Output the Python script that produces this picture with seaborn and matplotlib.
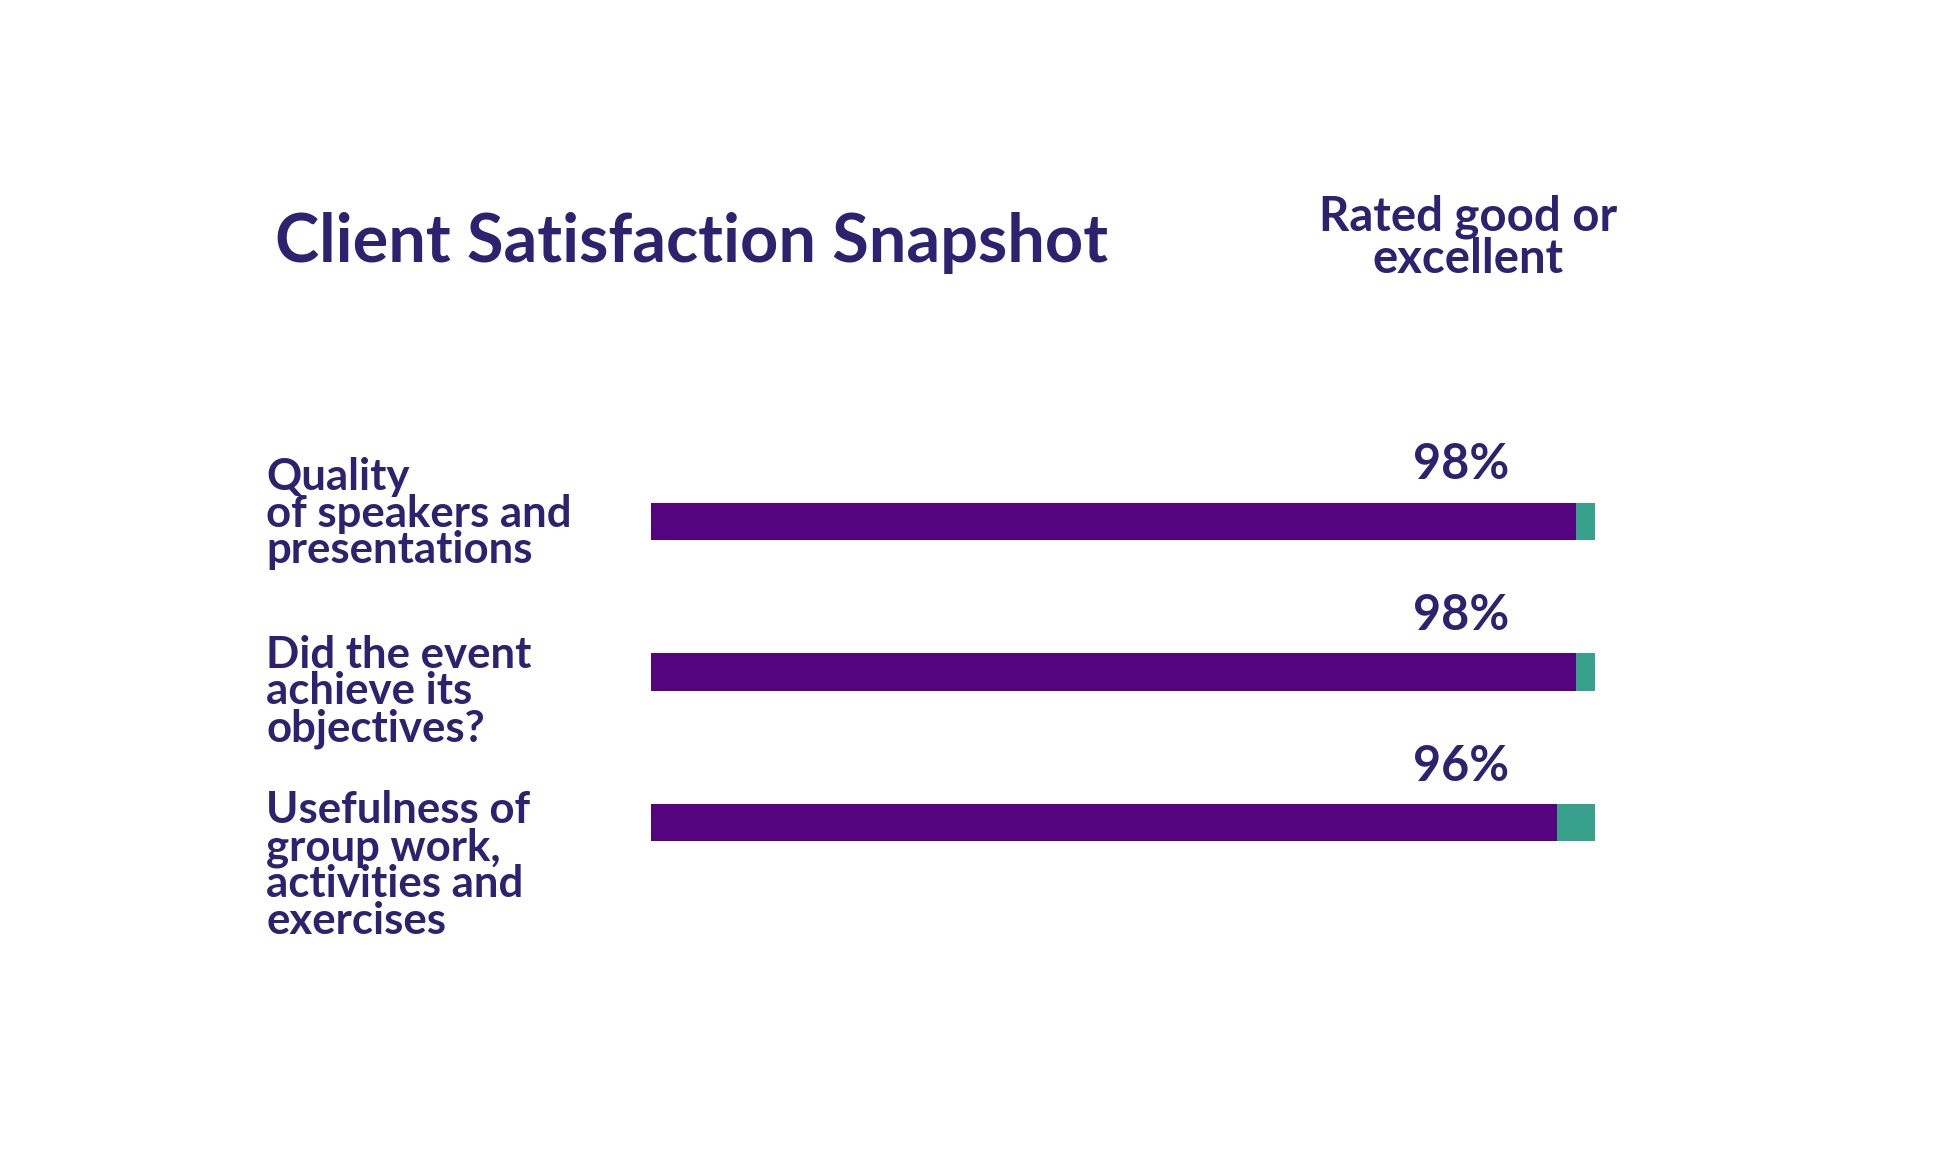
import matplotlib
matplotlib.use("Agg")
import matplotlib.pyplot as plt
import matplotlib.transforms as mtransforms
import pandas as pd
import seaborn as sns

questions = ["Quality\nof speakers and\npresentations",
             "Did the event\nachieve its\nobjectives?",
             "Usefulness of\ngroup work,\nactivities and\nexercises"]
good_pct = [98, 98, 96]
total_pct = [100, 100, 100]

text_col = "#2d2270"
purple = "#54047f"
teal = "#37a18b"

df = pd.DataFrame({"question": questions, "good": good_pct, "total": total_pct})

sns.set_style("white")
plt.rcParams["font.family"] = ["Lato", "DejaVu Sans"]

fig = plt.figure(figsize=(19.44, 11.55), dpi=100)
ax = fig.add_axes([0.3349, 0.2225, 0.4856, 0.3914])

# full bar in teal, share rated good on top in purple
sns.barplot(x="total", y="question", data=df, orient="h", color=teal,
            saturation=1, width=0.246, linewidth=0, ax=ax)
sns.barplot(x="good", y="question", data=df, orient="h", color=purple,
            saturation=1, width=0.246, linewidth=0, ax=ax)

ax.set_xlim(0, 100)
ax.set_ylim(2.5, -0.5)
ax.set_xlabel("")
ax.set_ylabel("")
ax.set_xticks([])
ax.set_yticks([])
sns.despine(ax=ax, left=True, bottom=True)

# question labels, left aligned in the margin
label_dy = [-0.05, 0.13, 0.285]
trans = mtransforms.blended_transform_factory(fig.transFigure, ax.transData)
for i, q in enumerate(questions):
    ax.text(0.137, i + label_dy[i], q, transform=trans, ha="left", va="center",
            fontsize=31.5, fontweight="bold", color=text_col, linespacing=0.9)

# percentage labels above each bar
for i, v in enumerate(good_pct):
    ax.text(85.8, i - 0.375, f"{v}%", ha="center", va="center",
            fontsize=35, fontweight="bold", color=text_col)

fig.text(275 / 1944, 1 - 243 / 1155, "Client Satisfaction Snapshot",
         ha="left", va="center", fontsize=48, fontweight="bold", color=text_col)
fig.text(1468 / 1944, 1 - 238 / 1155, "Rated good or\nexcellent",
         ha="center", va="center", fontsize=34, fontweight="bold",
         color=text_col, linespacing=0.94)

plt.savefig("out.png", dpi=100)
plt.close()
